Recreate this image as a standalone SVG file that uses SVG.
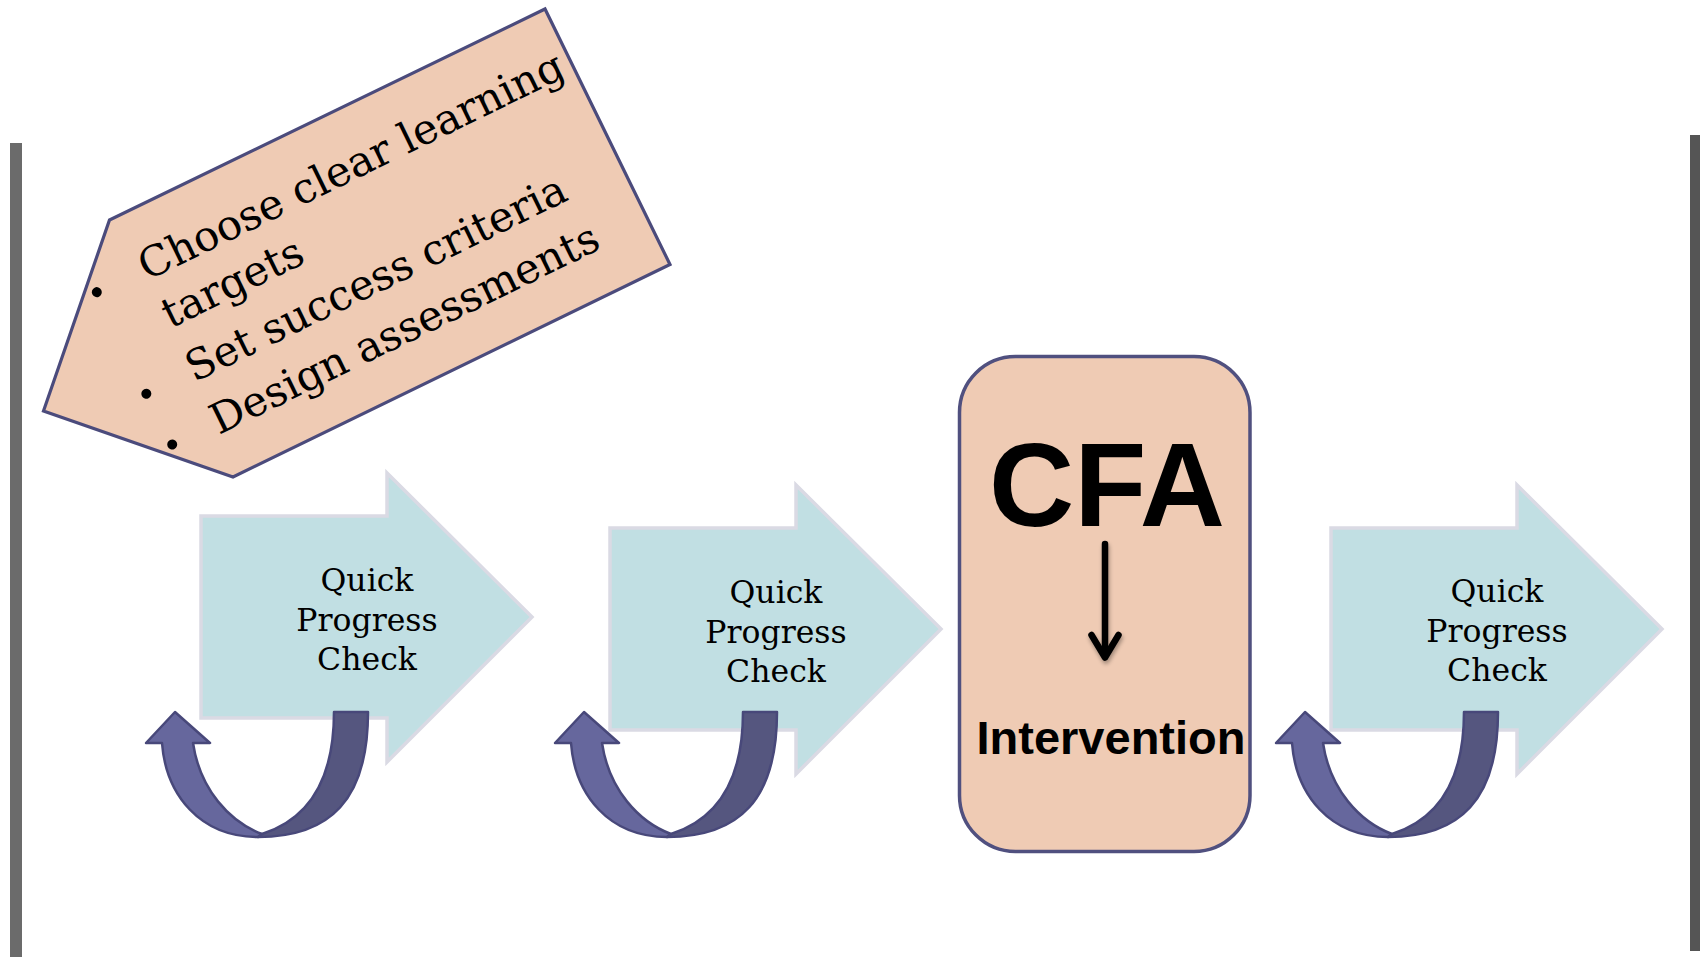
<svg xmlns="http://www.w3.org/2000/svg" width="1700" height="957" viewBox="0 0 1700 957">
<style>
.bar1{fill:#6b6b6b}
.bar2{fill:#555555}
.tag{fill:#efcbb4;stroke:#4b4b7c;stroke-width:3.2;stroke-linejoin:miter}
.tagtxt{font-family:"DejaVu Serif","Liberation Serif",serif;font-size:42px;fill:#000}
.blk{fill:#c1dfe3;stroke:#dadae4;stroke-width:3.5;stroke-linejoin:miter}
.qpc{font-family:"DejaVu Serif","Liberation Serif",serif;font-size:31.5px;fill:#000;text-anchor:middle}
.cfa{fill:#efcbb4;stroke:#50507f;stroke-width:3.5}
.big{font-family:"Liberation Sans",Arial,sans-serif;font-weight:bold;fill:#000;text-anchor:middle}
.lite{fill:#66679d;stroke:#48487a;stroke-width:2.5;stroke-linejoin:round}
.dark{fill:#55567f;stroke:#48487a;stroke-width:2.5;stroke-linejoin:round}
.down{fill:none;stroke:#000;stroke-width:6.5;stroke-linecap:round;stroke-linejoin:round}
</style>
<defs>
<filter id="sh" x="-50%" y="-20%" width="200%" height="140%">
<feGaussianBlur in="SourceAlpha" stdDeviation="2"/>
<feOffset dx="1" dy="3" result="b"/>
<feComponentTransfer><feFuncA type="linear" slope="0.35"/></feComponentTransfer>
<feMerge><feMergeNode/><feMergeNode in="SourceGraphic"/></feMerge>
</filter>
<g id="loop">
<path class="lite" d="M258,837 C200,837 166,795 162,743 L146,743 L175,712 L210,743 L193,743 C200,790 230,822 262,834 Z"/>
<path class="dark" d="M334,712 L368,712 C368,800 330,837 258,837 L262,834 C300,822 334,790 334,712 Z"/>
</g>
</defs>
<rect width="1700" height="957" fill="#ffffff"/>
<g id="frame">
<rect class="bar1" x="10" y="143" width="12" height="814"/>
<rect class="bar2" x="1690" y="135" width="10" height="816"/>
</g>
<g id="plan">
<polygon class="tag" points="109.5,220 545,9 670,264.5 233,477 43.5,411"/>
<g transform="translate(147,281) rotate(-26)">
<circle cx="-50" cy="-12" r="5"/>
<circle cx="-50" cy="101" r="5"/>
<circle cx="-49" cy="158" r="5"/>
<text class="tagtxt" x="0" y="0">Choose clear learning</text>
<text class="tagtxt" x="0" y="53">targets</text>
<text class="tagtxt" x="-2" y="112">Set success criteria</text>
<text class="tagtxt" x="-3" y="170">Design assessments</text>
</g>
</g>
<g id="qpc1">
<polygon class="blk" points="201,516 387,516 387,473 532,617 387,762 387,718 201,718"/>
<text class="qpc" x="367" y="591">Quick</text>
<text class="qpc" x="367" y="631">Progress</text>
<text class="qpc" x="367" y="670">Check</text>
</g>
<g id="qpc2">
<polygon class="blk" points="610,528 796,528 796,485 941,629 796,774 796,730 610,730"/>
<text class="qpc" x="776" y="603">Quick</text>
<text class="qpc" x="776" y="643">Progress</text>
<text class="qpc" x="776" y="682">Check</text>
</g>
<g id="cfa">
<rect class="cfa" x="959.5" y="356.5" width="290.5" height="495" rx="56" ry="56"/>
<text class="big" x="1107" y="526" font-size="118">CFA</text>
<g filter="url(#sh)">
<line class="down" x1="1105" y1="544" x2="1105" y2="656"/>
<polyline class="down" points="1091.5,635 1105,657.5 1118.5,635"/>
</g>
<text class="big" x="1111" y="754" font-size="47">Intervention</text>
</g>
<g id="qpc3">
<polygon class="blk" points="1331,528 1517,528 1517,485 1662,629 1517,774 1517,730 1331,730"/>
<text class="qpc" x="1497" y="602">Quick</text>
<text class="qpc" x="1497" y="642">Progress</text>
<text class="qpc" x="1497" y="681">Check</text>
</g>
<g id="connectors">
<use href="#loop"/>
<use href="#loop" transform="translate(409,0)"/>
<use href="#loop" transform="translate(1130,0)"/>
</g>
</svg>
